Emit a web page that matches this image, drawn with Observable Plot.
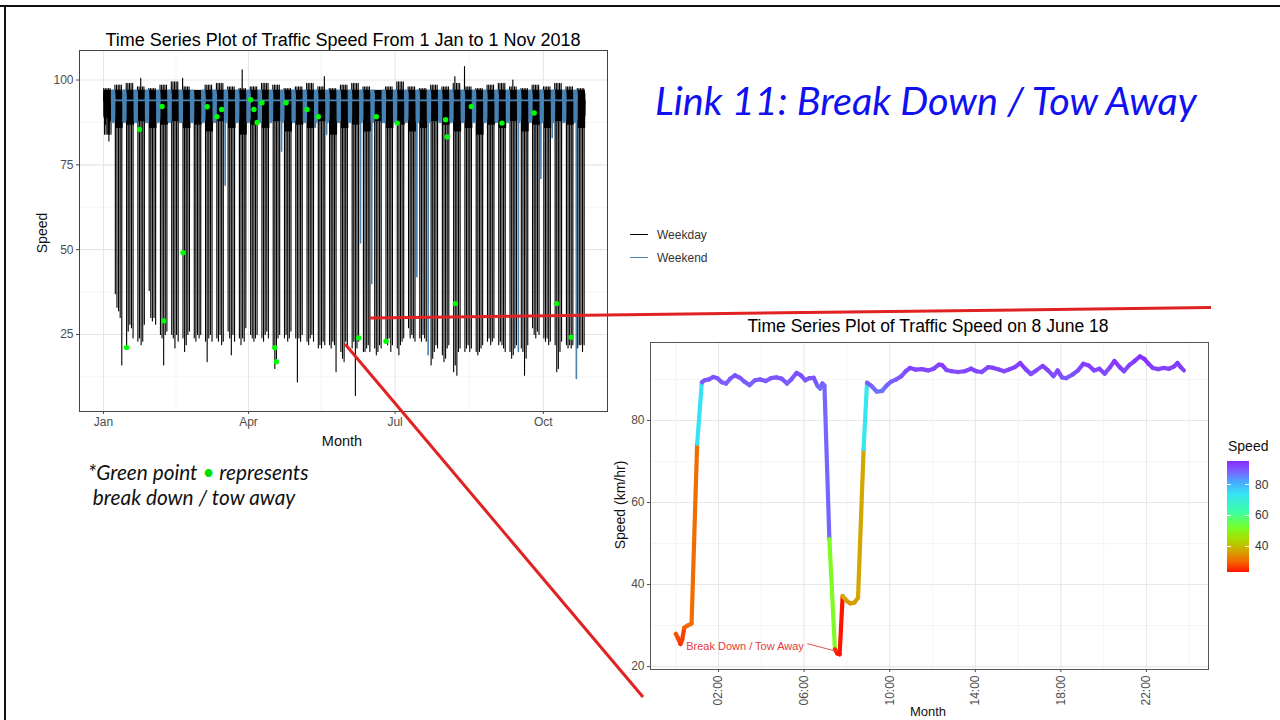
<!DOCTYPE html>
<html>
<head>
<meta charset="utf-8">
<script src="https://cdn.jsdelivr.net/npm/d3@7"></script>
<script src="https://cdn.jsdelivr.net/npm/@observablehq/plot@0.6"></script>
<style>
  html,body{margin:0;padding:0;background:#fff;}
  body{width:1280px;height:720px;position:relative;overflow:hidden;font-family:"Liberation Sans",Arial,sans-serif;}
  .abs{position:absolute;white-space:nowrap;}
  .c{transform:translate(-50%,-50%);}
  .rot{transform:translate(-50%,-50%) rotate(-90deg);}
  #chart1{position:absolute;left:0;top:0;}
  #chart2{position:absolute;left:600px;top:300px;}
  #chart1 svg,#chart2 svg{overflow:visible;background:transparent;}
</style>
</head>
<body>
<div class="abs" style="left:0;top:5px;width:1280px;height:2px;background:#111"></div>
<div class="abs" style="left:4px;top:5px;width:2px;height:715px;background:#111"></div>

<div id="chart1"></div>
<div id="chart2"></div>

<div class="abs c" style="left:343px;top:40px;font-size:18px;color:#000">Time Series Plot of Traffic Speed From 1 Jan to 1 Nov 2018</div>
<div class="abs rot" style="left:42px;top:233px;font-size:14px;color:#111">Speed</div>
<div class="abs c" style="left:342px;top:441px;font-size:14.5px;color:#111">Month</div>

<div id="leg1" class="abs" style="left:630px;top:223px;font-size:12px;color:#333"></div>

<div id="bigTitle" class="abs" style="left:655px;top:76px;font-family:Lato,'Open Sans',sans-serif;font-style:italic;color:#1010f0;font-size:40px;line-height:1.2">Link 11: Break Down / Tow Away</div>

<div class="abs" style="left:88px;top:459px;font-family:Lato,'Open Sans',sans-serif;font-style:italic;font-size:20.8px;color:#111;line-height:25px">*Green point <span style="color:#00e000">•</span> represents<br>&nbsp;break down / tow away</div>

<div class="abs c" style="left:928px;top:326px;font-size:17.5px;color:#000">Time Series Plot of Traffic Speed on 8 June 18</div>
<div class="abs rot" style="left:620px;top:505px;font-size:14px;color:#111">Speed (km/hr)</div>
<div class="abs c" style="left:928px;top:711px;font-size:13px;color:#111">Month</div>

<div id="leg2" class="abs" style="left:1227px;top:438px;"></div>

<svg class="abs" style="left:0;top:0;pointer-events:none" width="1280" height="720">
  <line x1="370" y1="318" x2="1211" y2="307.5" stroke="#e12222" stroke-width="3"/>
  <line x1="345" y1="344" x2="643" y2="697" stroke="#e12222" stroke-width="3"/>
</svg>

<script>
// ---------------- Chart 1 data ----------------
const monthTickDates = ["2018-01-01","2018-04-01","2018-07-01","2018-10-01"];
const monthTickLabels = ["Jan","Apr","Jul","Oct"];
const monthMinorDates = ["2018-02-15","2018-05-16","2018-08-16"];
const speedTicks = [25, 50, 75, 100];
const speedMinor = [12.5, 37.5, 62.5, 87.5];

// daily lowest speed of each weekday, month by month (Mon-Fri in calendar order)
const lowsJan = [92, 87, 90, 82, 88, 37, 33, 32, 30, 16, 21, 26, 28, 27, 24, 23, 24, 22, 23, 28, 38, 30, 29];
const lowsFeb = [30, 28, 25, 24, 16, 25, 26, 25, 24, 21, 25, 23, 24, 20, 22, 25, 26, 24, 23, 25];
const lowsMar = [24, 25, 23, 17, 24, 25, 23, 24, 23, 25, 22, 23, 26, 24, 19, 25, 23, 24, 22, 24, 23, 27];
const lowsApr = [25, 24, 23, 24, 25, 24, 23, 25, 26, 24, 21, 15, 17, 24, 25, 24, 25, 23, 24, 26, 24];
const lowsMay = [11, 24, 23, 25, 23, 22, 24, 25, 23, 21, 22, 21, 23, 22, 22, 21, 23, 22, 14, 20, 18, 17, 23];
const lowsJun = [22, 21, 23, 7, 21, 23, 20, 20, 21, 22, 20, 21, 19, 20, 22, 21, 23, 22, 24, 20, 22];
const lowsJul = [21, 19, 22, 23, 24, 27, 24, 25, 24, 23, 24, 23, 25, 24, 23, 16, 18, 20, 22, 21, 19, 17];
const lowsAug = [18, 21, 22, 14, 16, 13, 20, 21, 20, 21, 22, 20, 21, 20, 19, 20, 21, 22, 23, 24, 22, 23, 24];
const lowsSep = [22, 23, 22, 21, 20, 20, 18, 19, 21, 22, 21, 20, 13, 18, 22, 27, 25, 24, 26, 25];
const lowsOct = [24, 23, 24, 22, 23, 22, 14, 15, 20, 23, 22, 21, 22, 21, 22, 21, 22, 22, 20, 22];

// weekly top and bottom of the dense free-flow band (weeks starting Mon 1 Jan)
const weekPeaks  = [97.5, 98.5, 99, 98, 97.5, 98.5, 99.5, 98, 97, 98.5, 99, 98, 97.5, 98, 99, 98.5, 97.5, 98, 99, 98, 97.5, 98.5, 99, 98, 97, 98, 99.5, 98, 97.5, 98.5, 98, 99, 98, 97.5, 98.5, 99, 98, 97.5, 98.5, 98, 99, 98, 97.5];
const weekFloors = [84, 86, 87, 88, 86, 87, 88, 86, 87, 85, 88, 86, 84, 87, 86, 88, 85, 87, 86, 88, 84, 86, 87, 85, 88, 86, 87, 85, 86, 88, 87, 85, 86, 84, 87, 86, 88, 85, 87, 86, 88, 87, 86];

// typical within-day shape (hour, speed); tokens are taken from the arrays
const weekdayProfile = [[0,94],[2,"peak"],[4,89.5],[6,96.5],[7.3,89],[8,"low"],[9,90],[12,97],[15,"floor"],[18,96],[21,89.5],[23.5,94]];
const weekendProfile = [[0,94],[2,97],[4,88],[6,96.5],[8,87.5],[10,97],[12,"dip"],[14,96],[16,88],[18,97],[20,88.5],[22,96],[23.5,94]];

const peakDates  = ["2018-01-24","2018-02-19","2018-03-28","2018-05-18","2018-08-07","2018-08-13","2018-09-12"];
const peakSpeeds = [100.5, 100.5, 103, 101, 101, 104, 100];

const weekendDipDates  = ["2018-03-17","2018-04-21","2018-05-12","2018-05-19","2018-06-09","2018-06-16","2018-07-14","2018-07-21","2018-09-15","2018-09-29","2018-10-06","2018-10-21"];
const weekendDipSpeeds = [69, 79, 86, 84, 52, 40, 42, 19, 20, 71, 83, 12];

const breakdownDates = ["2018-01-15","2018-01-23","2018-02-06","2018-02-07","2018-02-19","2018-03-06","2018-03-12","2018-03-15","2018-04-02","2018-04-04","2018-04-06","2018-04-09","2018-04-17","2018-04-18","2018-04-24","2018-05-07","2018-05-14","2018-06-08","2018-06-19","2018-06-25","2018-07-02","2018-08-01","2018-08-02","2018-08-07","2018-08-17","2018-09-05","2018-09-25","2018-10-09","2018-10-18"];
const breakdownSpeeds = [21.2, 85.4, 92.2, 29, 49.1, 92.1, 89.2, 91.3, 94.2, 91.3, 87.5, 93.3, 21.1, 17.0, 93.3, 91.3, 89.2, 24.0, 89.2, 23.0, 87.3, 88.3, 83.2, 34.1, 92.2, 87.3, 90.3, 34.1, 24.2];

const seriesNames = ["Weekday", "Weekend"];
const seriesColors = ["#000000", "#4682b4"];

// ---------------- Chart 2 data (8 June 2018) ----------------
const dayHours = [0,0.1,0.22,0.3,0.4,0.55,0.74,1.0,1.22,1.35,1.55,1.75,1.95,2.15,2.35,2.55,2.77,3.0,3.2,3.45,3.7,3.95,4.2,4.45,4.7,4.95,5.2,5.4,5.65,5.85,6.05,6.25,6.45,6.62,6.75,6.85,6.95,7.18,7.44,7.55,7.66,7.8,8.0,8.15,8.35,8.52,8.78,8.94,9.15,9.4,9.65,9.85,10.05,10.3,10.55,10.75,10.95,11.2,11.5,11.8,12.05,12.3,12.45,12.65,12.9,13.2,13.5,13.8,14.05,14.3,14.6,14.85,15.1,15.35,15.6,15.85,16.1,16.35,16.6,16.85,17.15,17.4,17.65,17.85,18.05,18.25,18.55,18.8,19.05,19.3,19.55,19.8,20.05,20.3,20.5,20.75,20.95,21.2,21.45,21.7,21.9,22.1,22.3,22.55,22.8,23.05,23.3,23.45,23.6,23.75];
const daySpeeds = [28,27,25.5,26.5,29.5,30,30.5,74.3,89.3,89.8,90,90.6,90.3,89.3,89,90.2,91,90.4,89.5,88.6,89.8,90,89.6,90.3,90.5,90.2,89,90,91.6,91,89.8,90.3,90.4,88.5,87.8,89,88.5,51.1,24.2,23.2,23,37.2,36,35.4,35.6,36.8,73,89.2,88.4,87,87.2,88.5,89.4,90,90.8,92,92.8,92.4,92.5,92.2,92.6,93.6,93.5,92.3,92,91.8,92,92.6,92,91.8,93,92.8,92.4,92,92.5,93,94,92.5,91.3,92.2,93.3,92.2,90.8,92.2,90.5,90.3,91.2,92.2,93.8,93.4,92.2,92.6,91.4,93,94.5,93,92,93.5,94.5,95.6,95,93.8,92.8,92.5,92.8,92.6,93.2,94,93,92.2];
const hourTicks = [2, 6, 10, 14, 18, 22];
const hourTickLabels = ["02:00","06:00","10:00","14:00","18:00","22:00"];
const hourMinor = [0, 4, 8, 12, 16, 20, 24];
const kmhTicks = [20, 40, 60, 80];
const kmhMinor = [30, 50, 70, 90];
const colorSpeeds = [23, 30, 37, 45, 52, 62, 74, 82, 89, 95.6];
const colorHexes  = ["#ff1400","#f26a00","#d2a800","#a6e000","#78ff2a","#3cffa0","#36e4f5","#48a8ff","#7a60ff","#8a2cff"];
const legendTicks = [40, 60, 80];
const annotationLabel = ["Break Down / Tow Away"];
const annotationAt = [0.49, 24.9];
const annotationArrow = [[6.15, 25.6], [7.6, 23.6]];

// ---------------- build chart 1 ----------------
const DAY = 864e5, HOUR = 36e5, T0 = Date.UTC(2018, 0, 1);
const iso = t => new Date(t).toISOString().slice(0, 10);
const utc = s => new Date(s + "T00:00:00Z");
const monthLows = [lowsJan, lowsFeb, lowsMar, lowsApr, lowsMay, lowsJun, lowsJul, lowsAug, lowsSep, lowsOct];
const peakMap = new Map(peakDates.map((d, i) => [d, peakSpeeds[i]]));
const dipMap = new Map(weekendDipDates.map((d, i) => [d, weekendDipSpeeds[i]]));
const counters = monthLows.map(() => 0);
const weekdayPts = [], weekendPts = [];
for (let t = T0; t <= Date.UTC(2018, 9, 26); t += DAY) {
  const d = new Date(t), dow = d.getUTCDay(), m = d.getUTCMonth(), key = iso(t);
  const wk = Math.floor((t - T0) / (7 * DAY));
  if (dow === 0 || dow === 6) {
    for (const [h, v] of weekendProfile) {
      weekendPts.push({t: new Date(t + h * HOUR), v: v === "dip" ? (dipMap.get(key) ?? 89) : v});
    }
  } else {
    const low = monthLows[m][counters[m]++];
    for (const [h, v] of weekdayProfile) {
      const val = v === "low" ? low : v === "peak" ? (peakMap.get(key) ?? weekPeaks[wk]) : v === "floor" ? weekFloors[wk] : v;
      weekdayPts.push({t: new Date(t + h * HOUR), v: val});
    }
  }
}
const greens = breakdownDates.map((d, i) => ({t: new Date(utc(d).getTime() + 8 * HOUR), v: breakdownSpeeds[i]}));
const majorX = monthTickDates.map(utc);
const minorX = monthMinorDates.map(utc);

const chart1 = Plot.plot({
  width: 620, height: 460,
  marginLeft: 79, marginRight: 13, marginTop: 50, marginBottom: 49,
  style: {fontFamily: "'Liberation Sans', Arial, sans-serif", fontSize: "12px", color: "#4d4d4d", background: "transparent"},
  x: {type: "utc", domain: [new Date(Date.UTC(2017, 11, 17, 2)), new Date(Date.UTC(2018, 10, 9, 20))],
      ticks: majorX, tickFormat: d => monthTickLabels[majorX.findIndex(m => +m === +d)], label: null, tickSize: 3, tickPadding: 3},
  y: {domain: [2.3, 108.7], ticks: speedTicks, label: null, tickSize: 3, tickPadding: 3},
  marks: [
    Plot.ruleY(speedMinor, {stroke: "#ececec", strokeWidth: 0.6}),
    Plot.ruleY(speedTicks, {stroke: "#e6e6e6", strokeWidth: 1.1}),
    Plot.ruleX(minorX, {stroke: "#ececec", strokeWidth: 0.6}),
    Plot.ruleX(majorX, {stroke: "#e6e6e6", strokeWidth: 1.1}),
    Plot.line(weekdayPts, {x: "t", y: "v", stroke: seriesColors[0], strokeWidth: 1.1}),
    Plot.line(weekendPts, {x: "t", y: "v", stroke: seriesColors[1], strokeWidth: 1.6}),
    Plot.dot(greens, {x: "t", y: "v", r: 2.7, fill: "#00ff00"}),
    Plot.frame({stroke: "#444", strokeWidth: 1})
  ]
});
document.getElementById("chart1").appendChild(chart1);

// legend chart 1
const leg1 = document.getElementById("leg1");
seriesNames.forEach((name, i) => {
  const row = document.createElement("div");
  row.style.cssText = "display:flex;align-items:center;height:23px;";
  row.innerHTML = `<span style="display:inline-block;width:18px;height:0;border-top:1.3px solid ${seriesColors[i]};margin-right:9px"></span><span>${name}</span>`;
  leg1.appendChild(row);
});

// ---------------- build chart 2 ----------------
const segs = [];
for (let i = 0; i < dayHours.length - 1; i++) {
  segs.push({x1: dayHours[i], y1: daySpeeds[i], x2: dayHours[i + 1], y2: daySpeeds[i + 1], s: daySpeeds[i]});
}
const chart2 = Plot.plot({
  width: 680, height: 420,
  marginLeft: 50, marginRight: 72, marginTop: 42, marginBottom: 51,
  style: {fontFamily: "'Liberation Sans', Arial, sans-serif", fontSize: "12px", color: "#4d4d4d", background: "transparent"},
  x: {domain: [-1.18, 24.9], ticks: hourTicks, tickFormat: h => hourTickLabels[hourTicks.indexOf(h)], tickRotate: -90, label: null, tickSize: 3, tickPadding: 3},
  y: {domain: [19.3, 99], ticks: kmhTicks, label: null, tickSize: 3, tickPadding: 3},
  color: {type: "linear", domain: colorSpeeds, range: colorHexes, interpolate: "rgb"},
  marks: [
    Plot.ruleY(kmhMinor, {stroke: "#eeeeee", strokeWidth: 0.6}),
    Plot.ruleY(kmhTicks, {stroke: "#e8e8e8", strokeWidth: 1.1}),
    Plot.ruleX(hourMinor, {stroke: "#eeeeee", strokeWidth: 0.6}),
    Plot.ruleX(hourTicks, {stroke: "#e8e8e8", strokeWidth: 1.1}),
    Plot.link(segs, {x1: "x1", y1: "y1", x2: "x2", y2: "y2", stroke: "s", strokeWidth: 4.2, strokeLinecap: "round"}),
    Plot.link([annotationArrow], {x1: d => d[0][0], y1: d => d[0][1], x2: d => d[1][0], y2: d => d[1][1], stroke: "#e23a3a", strokeWidth: 0.9}),
    Plot.text(annotationLabel, {x: annotationAt[0], y: annotationAt[1], text: d => d, textAnchor: "start", fill: "#e23a3a", fontSize: 11}),
    Plot.frame({stroke: "#555", strokeWidth: 1})
  ]
});
document.getElementById("chart2").appendChild(chart2);

// colour bar legend for chart 2
const cmin = colorSpeeds[0], cmax = colorSpeeds[colorSpeeds.length - 1];
const pct = v => ((v - cmin) / (cmax - cmin) * 100).toFixed(2) + "%";
const grad = colorSpeeds.map((v, i) => `${colorHexes[i]} ${pct(v)}`).join(",");
const barH = 111, barW = 22;
let legHtml = `<div style="font-size:14px;color:#111;position:absolute;left:1px;top:0">Speed</div>`;
legHtml += `<div style="position:absolute;left:0;top:23px;width:${barW}px;height:${barH}px;background:linear-gradient(to top,${grad})"></div>`;
legendTicks.forEach(v => {
  const y = 23 + barH * (1 - (v - cmin) / (cmax - cmin));
  legHtml += `<div style="position:absolute;left:0;top:${y - 0.5}px;width:4px;height:1px;background:#fff"></div>`;
  legHtml += `<div style="position:absolute;left:${barW - 4}px;top:${y - 0.5}px;width:4px;height:1px;background:#fff"></div>`;
  legHtml += `<div style="position:absolute;left:${barW + 6}px;top:${y - 7}px;font-size:12px;color:#333">${v}</div>`;
});
document.getElementById("leg2").innerHTML = legHtml;

// fit big title width
const bt = document.getElementById("bigTitle");
const w = bt.getBoundingClientRect().width;
bt.style.fontSize = (40 * 542 / w).toFixed(2) + "px";
</script>
</body>
</html>
